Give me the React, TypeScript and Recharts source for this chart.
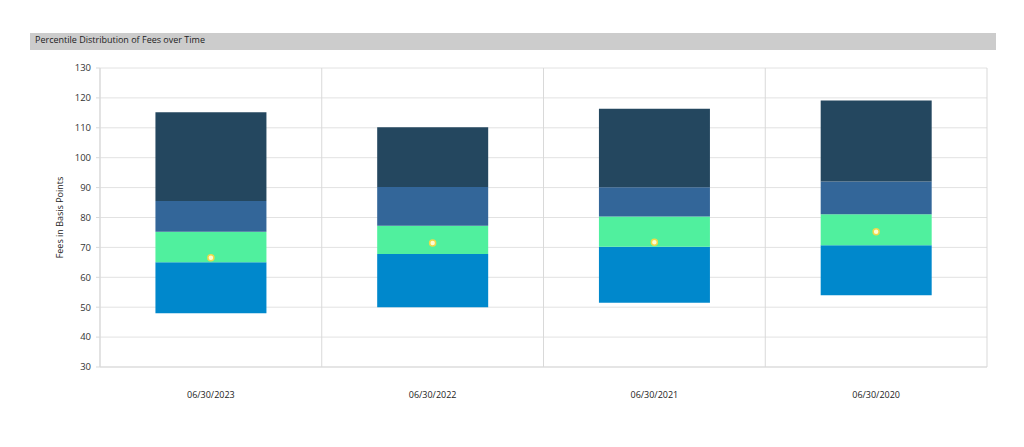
import React from 'react';
import { ComposedChart, Bar, Scatter, XAxis, YAxis, CartesianGrid } from 'recharts';

const periods = ['06/30/2023', '06/30/2022', '06/30/2021', '06/30/2020'];
// percentile boundaries, bottom to top
const p5 = [48, 50, 51.5, 54];
const p25 = [65, 67.8, 70.2, 70.7];
const p50 = [75.2, 77.2, 80.3, 81.1];
const p75 = [85.5, 90.2, 90.1, 92];
const p95 = [115.2, 110.2, 116.4, 119.1];
const average = [66.5, 71.5, 71.7, 75.2];
const yTicks = [30, 40, 50, 60, 70, 80, 90, 100, 110, 120, 130];

const data = periods.map((period, i) => ({
  period,
  base: p5[i],
  seg1: p25[i] - p5[i],
  seg2: p50[i] - p25[i],
  seg3: p75[i] - p50[i],
  seg4: p95[i] - p75[i],
  avg: average[i],
}));

const font = '"Open Sans", "Noto Sans", sans-serif';

const Dot = (props: any) => {
  const { cx, cy } = props;
  if (cx == null || cy == null) return null;
  return <circle cx={cx} cy={cy} r={3} fill="#fffbd2" stroke="#efd94a" strokeWidth={1.5} />;
};

// grid lines between the categories rather than through their centres
const bandEdges = ({ offset }: any) =>
  [0, ...periods.map((_, i) => i + 1)].map((k) => offset.left + (offset.width * k) / periods.length);

export default function App() {
  return (
    <div style={{ position: 'absolute', left: 0, top: 0, width: 1024, height: 447, background: '#fff', fontFamily: font }}>
      <div
        style={{
          position: 'absolute',
          left: 30,
          top: 33,
          width: 966,
          height: 17,
          background: '#cccccc',
          fontSize: 9,
          color: '#222',
          lineHeight: '13px',
          paddingLeft: 5,
          boxSizing: 'border-box',
        }}
      >
        Percentile Distribution of Fees over Time
      </div>
      <div style={{ position: 'absolute', left: 0, top: 0 }}>
        <ComposedChart
          width={1024}
          height={447}
          data={data}
          margin={{ top: 68, right: 37, left: 60, bottom: 50 }}
          barCategoryGap="25%"
        >
          <CartesianGrid stroke="#e2e2e2" vertical={false} />
          <CartesianGrid
            stroke="#d9d9d9"
            horizontal={false}
            verticalCoordinatesGenerator={bandEdges}
          />
          <XAxis
            dataKey="period"
            height={30}
            axisLine={{ stroke: '#d9d9d9' }}
            tickLine={false}
            tickMargin={19}
            tick={{ fontSize: 9, fill: '#222', fontFamily: font }}
            interval={0}
          />
          <YAxis
            width={40}
            domain={[30, 130]}
            ticks={yTicks}
            allowDataOverflow
            axisLine={{ stroke: '#d9d9d9' }}
            tickLine={{ stroke: '#d9d9d9' }}
            tickSize={4}
            tickMargin={5}
            tick={{ fontSize: 9.5, fill: '#333', fontFamily: font }}
            label={{
              value: 'Fees in Basis Points',
              angle: -90,
              position: 'insideLeft',
              offset: 0,
              style: { textAnchor: 'middle', fontSize: 9, fill: '#222', fontFamily: font },
            }}
          />
          <Bar dataKey="base" stackId="p" fill="transparent" isAnimationActive={false} />
          <Bar dataKey="seg1" stackId="p" fill="#0088cc" isAnimationActive={false} />
          <Bar dataKey="seg2" stackId="p" fill="#50f09e" isAnimationActive={false} />
          <Bar dataKey="seg3" stackId="p" fill="#336699" isAnimationActive={false} />
          <Bar dataKey="seg4" stackId="p" fill="#24475f" isAnimationActive={false} />
          <Scatter dataKey="avg" shape={<Dot />} isAnimationActive={false} />
        </ComposedChart>
      </div>
    </div>
  );
}
